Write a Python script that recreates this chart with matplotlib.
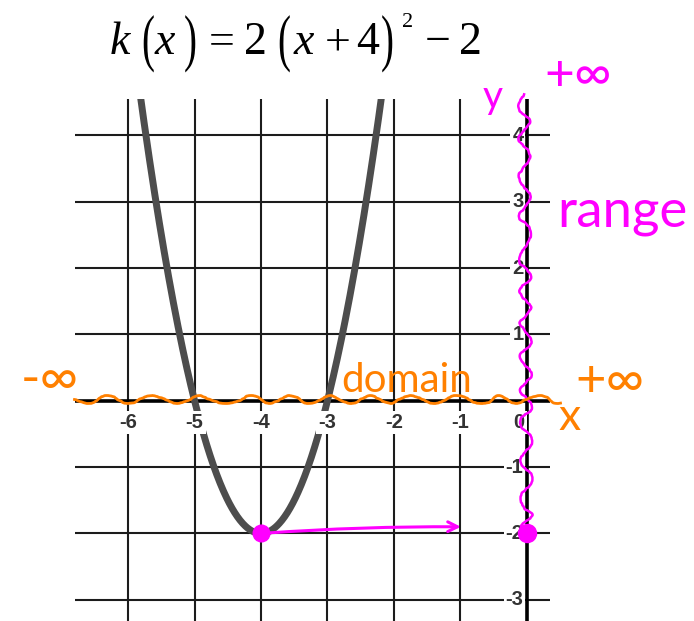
import numpy as np
import matplotlib
matplotlib.use("Agg")
import matplotlib.pyplot as plt
from matplotlib.textpath import TextPath
from matplotlib.patches import PathPatch
from matplotlib.font_manager import FontProperties
from matplotlib.transforms import Affine2D

# k(x) = a (x - h)^2 + k0
a, h, k0 = 2, -4, -2
x_ticks = [-6, -5, -4, -3, -2, -1]
y_ticks = [-3, -2, -1, 1, 2, 3, 4]
x_tick_labels = ["-6", "-5", "-4", "-3", "-2", "-1"]
y_tick_labels = ["-3", "-2", "-1", "1", "2", "3", "4"]

W, H = 694, 621
fig = plt.figure(figsize=(W / 100, H / 100), dpi=100)
ax = fig.add_axes([75 / W, 0, 475 / W, 522 / H])
ax.set_xlim(-6.8, 0.35)
ax.set_ylim(-3.32, 4.55)
ax.axis("off")

grid_col = "#1c1c1c"
for xv in x_ticks:
    ax.axvline(xv, color=grid_col, lw=1.5, zorder=1)
for yv in y_ticks:
    ax.axhline(yv, color=grid_col, lw=1.5, zorder=1)
ax.axhline(0, color="black", lw=2.6, zorder=2)
ax.axvline(0, color="black", lw=2.6, zorder=2)

# parabola
xs = np.linspace(-6.0, -2.0, 400)
ys = a * (xs - h) ** 2 + k0
ax.plot(xs, ys, color="#4d4d4d", lw=5.0, solid_capstyle="butt", zorder=3)

# tick labels sitting on the grid
lab_kw = dict(fontsize=14.5, color="#333333", family="Liberation Sans",
              fontweight="bold", zorder=4,
              bbox=dict(boxstyle="square,pad=0.1", fc="white", ec="none"))
for xv, lab in zip(x_ticks, x_tick_labels):
    ax.text(xv, -0.33, lab, ha="center", va="center", **lab_kw)
ax.text(-0.03, -0.33, "0", ha="right", va="center", **lab_kw)
for yv, lab in zip(y_ticks, y_tick_labels):
    ax.text(-0.05, yv, lab, ha="right", va="center", **lab_kw)

# title, set piece by piece in a serif face; parentheses are stretched
# vertically so they stay thin while spanning the full line
serif = FontProperties(family="Liberation Serif")
paren_px = 33 * 100 / 72
# (text, style, size, left px, baseline px)
title_parts = [
    ("k", "italic", 33, 110, 54), ("(", "paren", 33, 142, 59),
    ("x", "italic", 33, 155, 54), (")", "paren", 33, 184, 59),
    ("=", "normal", 33, 209, 54), ("2", "normal", 33, 244, 54),
    ("(", "paren", 33, 278, 59), ("x", "italic", 33, 294, 54),
    ("+", "normal", 33, 325, 54), ("4", "normal", 33, 356, 54),
    (")", "paren", 33, 381, 59), ("2", "normal", 16, 402, 27),
    ("\u2212", "normal", 33, 425, 54), ("2", "normal", 33, 459, 54),
]
for txt, style, size, left, base in title_parts:
    if style == "paren":
        path = TextPath((0, 0), txt, size=paren_px, prop=serif)
        tr = Affine2D().scale(0.85, 1.38).translate(left, H - base)
        fig.add_artist(PathPatch(path, transform=tr, fc="black", ec="none"))
    else:
        fig.text(left / W, 1 - base / H, txt, fontsize=size, fontstyle=style,
                 family="Liberation Serif", color="black", ha="left", va="baseline")

# handwritten notes
mag = "#ff00ff"
org = "#ff8000"
hand = dict(family="Lato", fontweight="normal")

# range along the y-axis
ln, = ax.plot([-0.04, 0.0], [4.62, k0], color=mag, lw=1.8, clip_on=False, zorder=6)
ln.set_sketch_params(scale=6, length=45, randomness=3)
ax.plot([0], [k0], "o", color=mag, ms=13, clip_on=False, zorder=7)
ax.plot([h], [k0], "o", color=mag, ms=12, zorder=7)
ax.annotate("", xy=(-0.95, k0 + 0.1), xytext=(h, k0),
            arrowprops=dict(arrowstyle="->,head_length=0.7,head_width=0.35",
                            color=mag, lw=2.2, connectionstyle="arc3,rad=-0.02"),
            zorder=6)
fig.text(493 / W, 1 - 97 / H, "y", color=mag, fontsize=28, ha="center", va="center", **hand)
fig.text(578 / W, 1 - 76 / H, "+\u221e", color=mag, fontsize=37, ha="center", va="center", **hand)
fig.text(622 / W, 1 - 212 / H, "range", color=mag, fontsize=38, ha="center", va="center", **hand)

# domain along the x-axis
xl, = ax.plot([-6.82, 0.5], [0.02, 0.02], color=org, lw=2.0, clip_on=False, zorder=6)
xl.set_sketch_params(scale=4, length=55, randomness=3)
fig.text(50 / W, 1 - 380 / H, "-\u221e", color=org, fontsize=38, ha="center", va="center", **hand)
fig.text(407 / W, 1 - 381 / H, "domain", color=org, fontsize=29, ha="center", va="center", **hand)
fig.text(610 / W, 1 - 382 / H, "+\u221e", color=org, fontsize=38, ha="center", va="center", **hand)
fig.text(570 / W, 1 - 418 / H, "x", color=org, fontsize=32, ha="center", va="center", **hand)

fig.savefig("out.png", dpi=100, facecolor="white")
